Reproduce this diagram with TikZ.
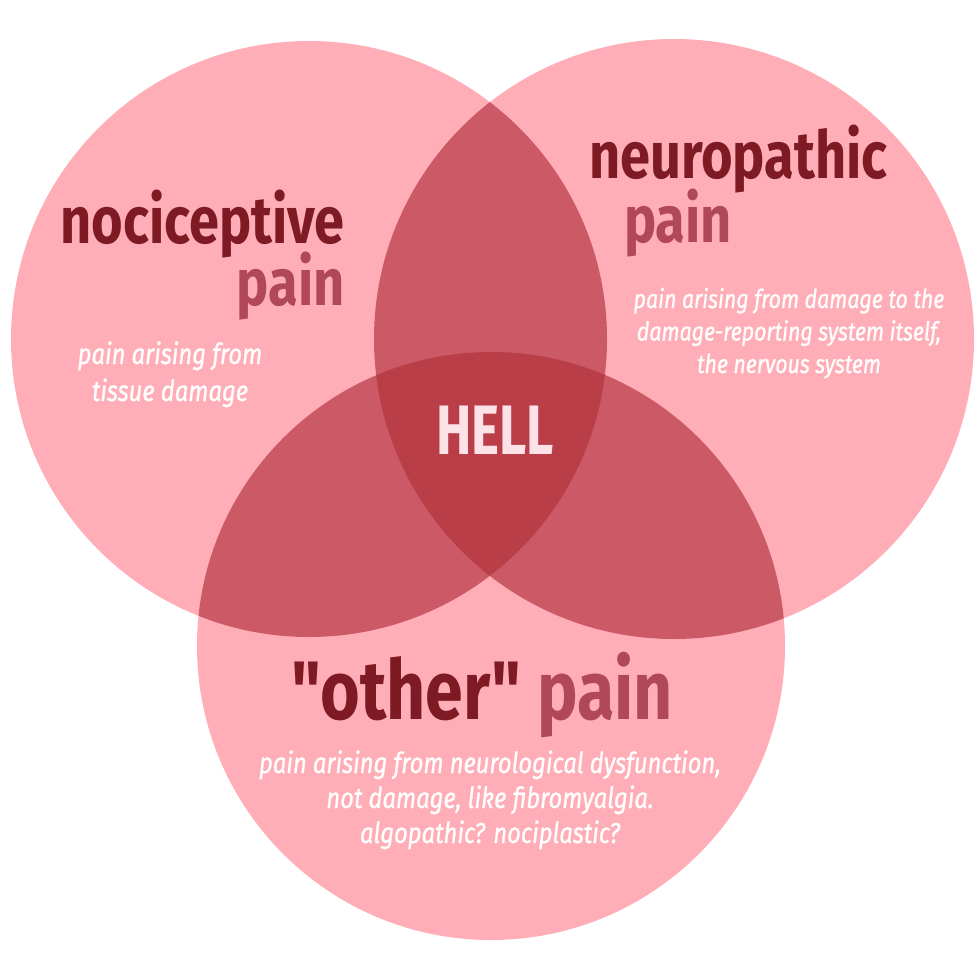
\documentclass[tikz,border=0pt]{standalone}
\usepackage{fontspec}
\newfontfamily\mainf{Fira Sans}[FakeStretch=0.82]
\newfontfamily\hellf{Fira Sans}[FakeStretch=0.76]
\newfontfamily\descf{Fira Sans}[FakeStretch=0.82, FakeBold=0.8]
\definecolor{one}{HTML}{FFAEB8}
\definecolor{two}{HTML}{CB5A66}
\definecolor{three}{HTML}{BA3E48}
\definecolor{darkred}{HTML}{7E1A24}
\definecolor{painc}{HTML}{B0485A}
\definecolor{hellc}{HTML}{FDE2E7}
\tikzset{
  ttl/.style={font=\mainf\fontsize{66}{66}\selectfont\bfseries, inner sep=0pt, text=darkred},
  paint/.style={ttl, text=painc},
  desc/.style={font=\descf\fontsize{29}{37}\selectfont\itshape, text=white, inner sep=0pt, align=center},
}
\begin{document}
\begin{tikzpicture}[x=1pt,y=-1pt]
\useasboundingbox (0,0) rectangle (980,961);
\fill[white] (0,0) rectangle (980,961);
\coordinate (cL) at (309,339);
\coordinate (cR) at (674,339);
\coordinate (cB) at (491,646);
\fill[one] (cL) circle (298);
\fill[one] (cR) circle (300);
\fill[one] (cB) circle (294);
\begin{scope}
  \clip (cL) circle (298);
  \fill[two] (cR) circle (300);
  \fill[two] (cB) circle (294);
\end{scope}
\begin{scope}
  \clip (cR) circle (300);
  \fill[two] (cB) circle (294);
\end{scope}
\begin{scope}
  \clip (cL) circle (298);
  \clip (cR) circle (300);
  \fill[three] (cB) circle (294);
\end{scope}
% left
\node[ttl, anchor=base east] (noci) at (345,243) {nociceptive};
\node[paint, anchor=base east] (nocipain) at (345,305) {pain};
\node[desc, anchor=base] (nocidesc) at (170,401) {pain arising from\\tissue damage};
% right
\node[ttl, anchor=base west] (neuro) at (589,178) {neuropathic};
\node[paint, anchor=base west] (neuropain) at (624,242) {pain};
\node[desc, font=\descf\fontsize{26}{32.5}\selectfont\itshape, anchor=base] (neurodesc) at (789,373) {pain arising from damage to the\\damage-reporting system itself,\\the nervous system};
% center
\node[ttl, font=\hellf\fontsize{70}{70}\selectfont\bfseries, text=hellc, anchor=base] (hell) at (495,454) {HELL};
% bottom
\node[ttl, font=\mainf\fontsize{83}{83}\selectfont\bfseries, anchor=base] (other) at (482,719) {"other" \textcolor{painc}{pain}};
\node[desc, font=\descf\fontsize{29}{35}\selectfont\itshape, anchor=base] (otherdesc) at (490,843) {pain arising from neurological dysfunction,\\not damage, like fibromyalgia.\\algopathic? nociplastic?};
\end{tikzpicture}
\end{document}
